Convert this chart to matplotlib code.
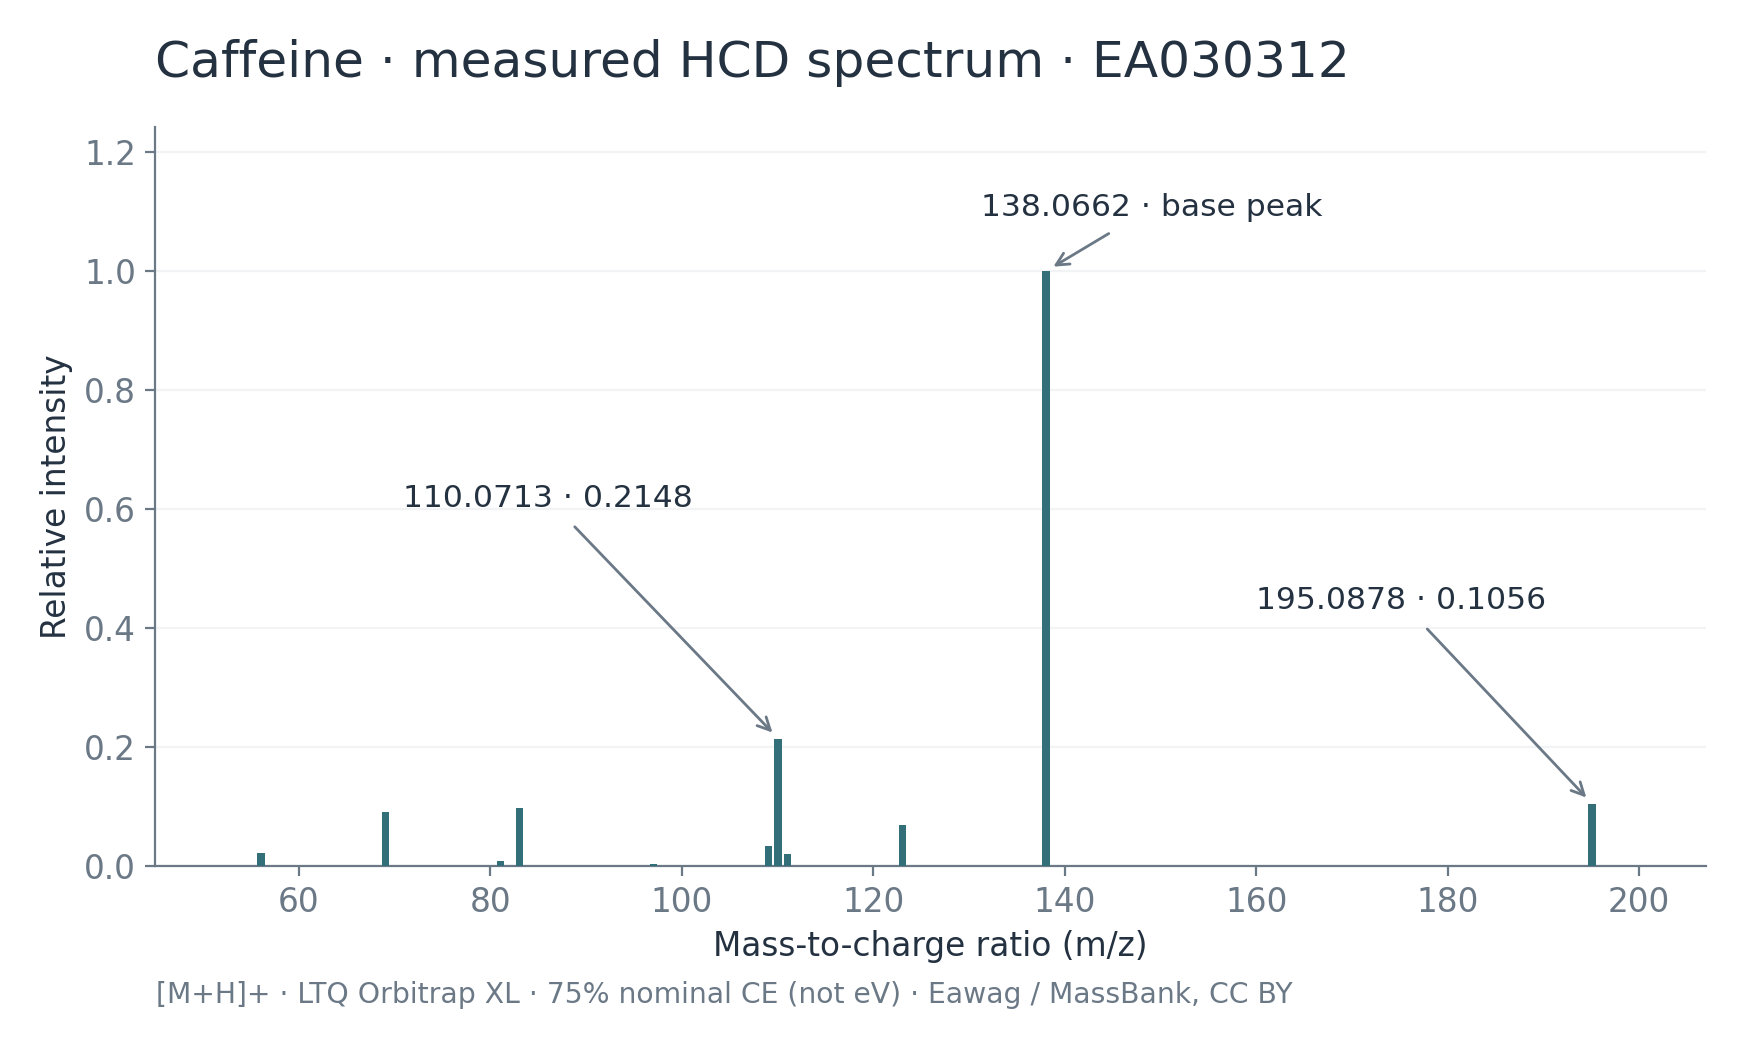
import matplotlib
matplotlib.use("Agg")
import matplotlib.pyplot as plt

# peaks (m/z, relative intensity)
mz = [56.0495, 69.0447, 81.0447, 83.0604, 97.0396, 109.0509, 110.0713,
      111.0553, 123.0553, 138.0662, 195.0878]
intensity = [0.022, 0.092, 0.009, 0.099, 0.005, 0.035, 0.2148,
             0.021, 0.069, 1.0, 0.1056]

labels = ["138.0662 · base peak", "110.0713 · 0.2148", "195.0878 · 0.1056"]
label_targets = [(138.0662, 1.0), (110.0713, 0.2148), (195.0878, 0.1056)]
label_spots = [(149.1, 1.106), (86.0, 0.6175), (175.1, 0.446)]

DARK = "#243140"
GREY = "#6b7886"
BAR = "#336f79"

plt.rcParams["font.family"] = ["DejaVu Sans"]

fig = plt.figure(figsize=(8.725, 5.24), dpi=200)
ax = fig.add_axes([0.089, 0.1732, 0.8887, 0.7058])

ax.bar(mz, intensity, width=0.8, color=BAR, zorder=3)

ax.set_xlim(45, 207)
ax.set_ylim(0, 1.242)
ax.set_yticks([0, 0.2, 0.4, 0.6, 0.8, 1.0, 1.2])
ax.set_xticks([60, 80, 100, 120, 140, 160, 180, 200])

ax.grid(axis="y", color="#f1f3f4", linewidth=0.8, zorder=0)
ax.grid(axis="x", visible=False)

for side in ["top", "right"]:
    ax.spines[side].set_visible(False)
for side in ["left", "bottom"]:
    ax.spines[side].set_color(GREY)
    ax.spines[side].set_linewidth(0.8)

ax.tick_params(colors=GREY, labelsize=11.8, length=3.5, width=0.8)

ax.set_xlabel("Mass-to-charge ratio (m/z)", fontsize=11.8, color=DARK, labelpad=4)
ax.set_ylabel("Relative intensity", fontsize=11.8, color=DARK, labelpad=4)

ax.set_title("Caffeine · measured HCD spectrum · EA030312", loc="left",
             fontsize=18.1, color=DARK, pad=18)

for text, target, spot in zip(labels, label_targets, label_spots):
    ax.annotate(text, xy=target, xytext=spot, ha="center", va="center",
                fontsize=11.3, color=DARK,
                arrowprops=dict(arrowstyle="->", color=GREY, lw=1.0,
                                shrinkA=4, shrinkB=3))

fig.text(0.0893, 0.043,
         "[M+H]+ · LTQ Orbitrap XL · 75% nominal CE (not eV) · Eawag / MassBank, CC BY",
         fontsize=10.2, color=GREY, ha="left", va="baseline")

fig.savefig("out.png", dpi=200, facecolor="white")
